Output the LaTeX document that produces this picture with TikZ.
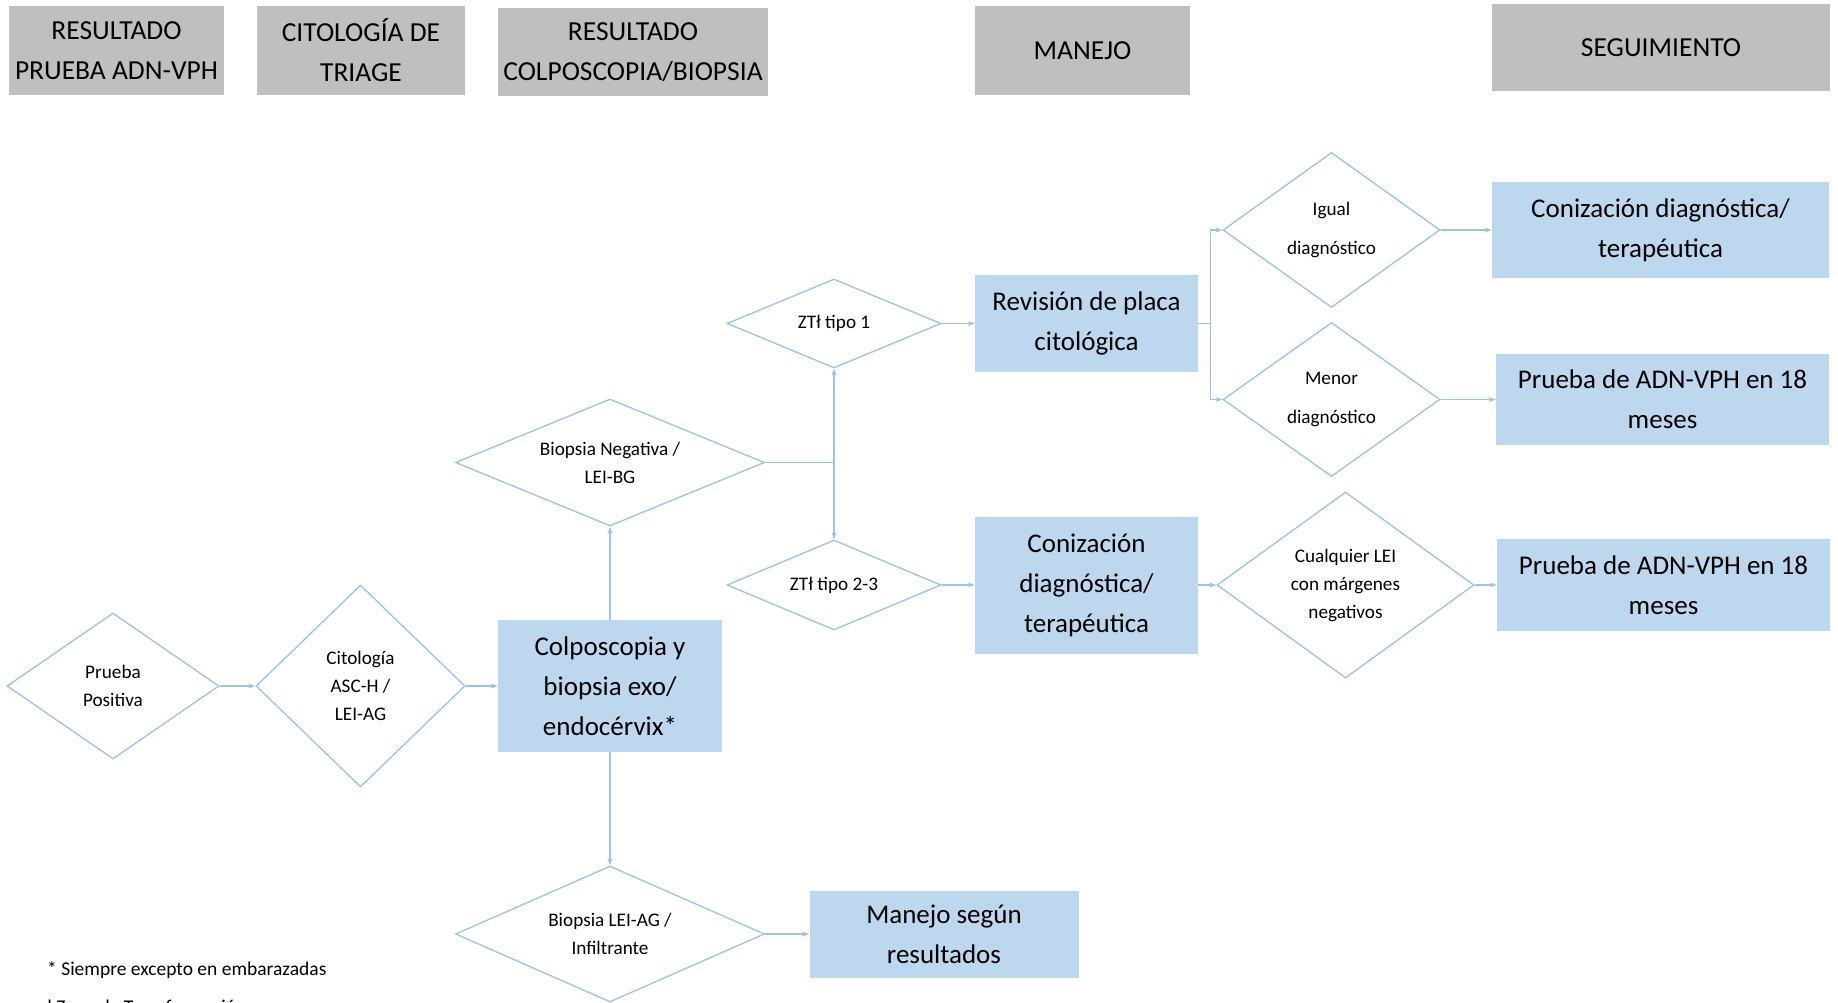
\documentclass[tikz,border=0pt]{standalone}
\usepackage{fontspec}
\setmainfont{Carlito}
\usetikzlibrary{shapes.geometric,arrows.meta}
\definecolor{hdrgray}{RGB}{191,191,191}
\definecolor{boxblue}{RGB}{189,215,238}
\definecolor{lineblue}{RGB}{157,195,230}
\tikzset{
  hdr/.style={fill=hdrgray, inner sep=0pt, align=center, font=\fontsize{27.5}{40}\selectfont},
  bluebox/.style={fill=boxblue, inner sep=0pt, align=center, font=\fontsize{27}{40}\selectfont},
  dia/.style={diamond, draw=lineblue, line width=1.3pt, inner sep=0pt, align=center, font=\fontsize{19.2}{28}\selectfont},
  arr/.style={draw=lineblue, line width=1.3pt, -{Stealth[length=7pt,width=5pt]}},
  foot/.style={inner sep=0pt, font=\fontsize{19.5}{28}\selectfont}
}
\begin{document}
\begin{tikzpicture}[x=1pt,y=-1pt]
\useasboundingbox (0,0) rectangle (1838,1003);
\fill[white] (0,0) rectangle (1838,1003);
% headers
\node[hdr, minimum width=215pt, minimum height=89pt] (h1) at (116.5,50.5) {RESULTADO\\PRUEBA ADN-VPH};
\node[hdr, minimum width=208pt, minimum height=89pt] (h2) at (361,50.5) {CITOLOGÍA DE\\TRIAGE};
\node[hdr, minimum width=270pt, minimum height=88pt] (h3) at (633,52) {RESULTADO\\COLPOSCOPIA/BIOPSIA};
\node[hdr, minimum width=215pt, minimum height=89pt] (h4) at (1082.5,50.5) {MANEJO};
\node[hdr, minimum width=338pt, minimum height=87pt] (h5) at (1661,47.5) {SEGUIMIENTO};
% diamonds
\node[dia, shape aspect=1.45, minimum width=212pt, minimum height=146pt] (d1) at (113,686) {Prueba\\Positiva};
\node[dia, shape aspect=1.03, minimum width=209pt, minimum height=202pt] (d2) at (360.5,686) {Citología\\ASC-H /\\LEI-AG};
\node[dia, shape aspect=2.43, minimum width=309pt, minimum height=127pt] (d3) at (610,462.5) {Biopsia Negativa /\\LEI-BG};
\node[dia, shape aspect=2.27, minimum width=309pt, minimum height=136pt] (d4) at (610,934) {Biopsia LEI-AG /\\Infiltrante};
\node[dia, shape aspect=2.4, minimum width=214pt, minimum height=89pt] (d5) at (834,323.5) {ZTł tipo 1};
\node[dia, shape aspect=2.4, minimum width=214pt, minimum height=90pt] (d6) at (834,585) {ZTł tipo 2-3};
\node[dia, shape aspect=1.4, minimum width=217pt, minimum height=155pt, font=\fontsize{19.2}{39}\selectfont] (d7) at (1331.5,230) {Igual\\diagnóstico};
\node[dia, shape aspect=1.4, minimum width=217pt, minimum height=154pt, font=\fontsize{19.2}{39}\selectfont] (d8) at (1331.5,399.5) {Menor\\diagnóstico};
\node[dia, shape aspect=1.38, minimum width=257pt, minimum height=186pt] (d9) at (1345.5,585) {Cualquier LEI\\con márgenes\\negativos};
% boxes
\node[bluebox, minimum width=224pt, minimum height=132pt] (colpo) at (610,686) {Colposcopia y\\biopsia exo/\\endocérvix*};
\node[bluebox, minimum width=269pt, minimum height=87pt] (manejo) at (944,934) {Manejo según\\resultados};
\node[bluebox, minimum width=223pt, minimum height=97pt] (rev) at (1086.5,323.5) {Revisión de placa\\citológica};
\node[bluebox, minimum width=223pt, minimum height=137pt] (coniz1) at (1086.5,585) {Conización\\diagnóstica/\\terapéutica};
\node[bluebox, minimum width=337pt, minimum height=96pt] (coniz2) at (1660.5,230) {Conización diagnóstica/\\terapéutica};
\node[bluebox, minimum width=333pt, minimum height=91pt] (p18a) at (1662.5,399.5) {Prueba de ADN-VPH en 18\\meses};
\node[bluebox, minimum width=333pt, minimum height=92pt] (p18b) at (1663.5,585) {Prueba de ADN-VPH en 18\\meses};
% connectors
\draw[arr] (d1.east) -- (d2.west);
\draw[arr] (d2.east) -- (colpo.west);
\draw[arr] (colpo.north) -- (d3.south);
\draw[arr] (colpo.south) -- (d4.north);
\draw[arr] (d4.east) -- (manejo.west);
\draw[arr] (d3.east) -| (d5.south);
\draw[arr] (d3.east) -| (d6.north);
\draw[arr] (d5.east) -- (rev.west);
\draw[arr] (d6.east) -- (coniz1.west);
\draw[arr] (rev.east) -- ++(12,0) |- (d7.west);
\draw[arr] (rev.east) -- ++(12,0) |- (d8.west);
\draw[arr] (d7.east) -- (coniz2.west);
\draw[arr] (d8.east) -- (p18a.west);
\draw[arr] (coniz1.east) -- (d9.west);
\draw[arr] (d9.east) -- (p18b.west);
% footnotes
\begin{scope}
\clip (0,0) rectangle (1838,1003);
\node[foot, anchor=base west] (fn1) at (47,975) {* Siempre excepto en embarazadas};
\node[foot, anchor=base west] (fn2) at (47,1013) {ł Zona de Transformación};
\end{scope}
\end{tikzpicture}
\end{document}
